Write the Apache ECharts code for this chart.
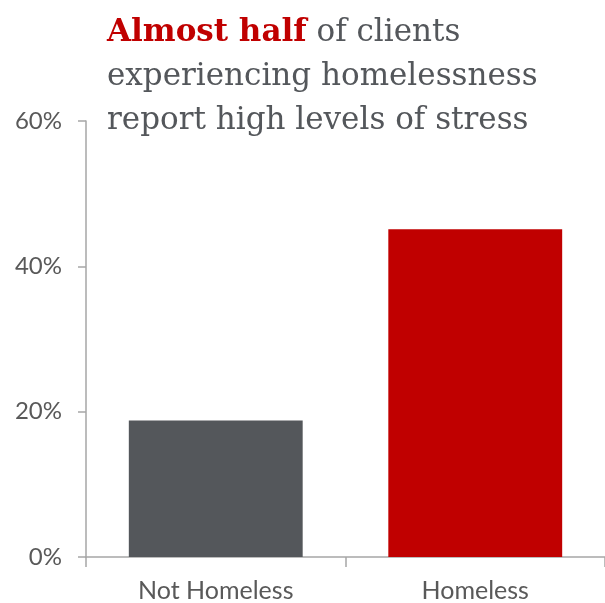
<!DOCTYPE html>
<html>
<head>
<meta charset="utf-8">
<script src="https://cdn.jsdelivr.net/npm/echarts@6/dist/echarts.min.js"></script>
<style>
  html, body { margin: 0; padding: 0; background: #fff; }
  #chart { width: 605px; height: 603px; }
</style>
</head>
<body>
<div id="chart"></div>
<script>
// data
const categories = ['Not Homeless', 'Homeless']
const stressShare = [18.8, 45.1]
const barColors = ['#54575b', '#c00000']
const yTicks = [0, 20, 40, 60]

const chart = echarts.init(document.getElementById('chart'))

const option = {
  animation: false,
  title: {
    left: 107,
    top: 11,
    padding: 0,
    text: '{hl|Almost half} of clients\nexperiencing homelessness\nreport high levels of stress',
    textStyle: {
      fontFamily: 'DejaVu Serif',
      fontSize: 31,
      fontWeight: 'normal',
      color: '#54575b',
      lineHeight: 44,
      rich: {
        hl: {
          fontFamily: 'DejaVu Serif',
          fontSize: 31,
          fontWeight: 'bold',
          color: '#c00000',
          lineHeight: 44
        }
      }
    }
  },
  grid: {
    left: 86,
    right: -3,
    top: 121,
    bottom: 46
  },
  xAxis: {
    type: 'category',
    data: categories,
    axisLine: { lineStyle: { color: '#a6a6a6', width: 1.5 } },
    axisTick: { show: true, length: 10, lineStyle: { color: '#a6a6a6', width: 1.5 } },
    axisLabel: {
      margin: 21,
      fontFamily: 'Lato',
      fontSize: 25,
      color: '#595959'
    }
  },
  yAxis: {
    type: 'value',
    min: yTicks[0],
    max: yTicks[yTicks.length - 1],
    interval: yTicks[1] - yTicks[0],
    splitLine: { show: false },
    axisLine: { show: true, lineStyle: { color: '#a6a6a6', width: 1.5 } },
    axisTick: { show: true, length: 8, lineStyle: { color: '#a6a6a6', width: 1.5 } },
    axisLabel: {
      margin: 24,
      fontFamily: 'Lato',
      fontSize: 24,
      color: '#595959',
      formatter: v => v + '%'
    }
  },
  series: [
    {
      type: 'bar',
      barWidth: '67%',
      data: stressShare.map((v, i) => ({
        value: v,
        itemStyle: { color: barColors[i] }
      }))
    }
  ]
}

chart.setOption(option)
</script>
</body>
</html>
